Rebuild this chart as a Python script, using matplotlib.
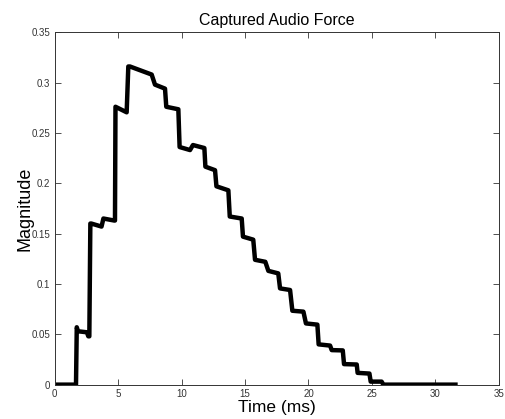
import matplotlib
matplotlib.use("Agg")
import matplotlib.pyplot as plt

# --- Captured force trace ---
time_ms = [0, 1.69, 1.75, 1.85, 2.55, 2.66, 2.74, 2.82, 2.9, 3.7, 3.85, 4.7, 4.76,
           4.8, 5.68, 5.81, 5.94, 7.65, 7.91, 8.7, 8.8, 9.75, 9.85, 10.67, 10.9,
           11.8, 11.88, 12.64, 12.75, 13.69, 13.8, 14.74, 14.84, 15.65, 15.79,
           16.6, 16.84, 17.62, 17.76, 18.55, 18.73, 19.6, 19.8, 20.7, 20.8, 21.7,
           21.83, 22.7, 22.8, 23.8, 23.87, 24.8, 24.9, 25.76, 25.9, 31.75]
magnitude = [0, 0, 0.057, 0.053, 0.052, 0.048, 0.048, 0.160, 0.160, 0.157, 0.165,
             0.163, 0.163, 0.276, 0.2705, 0.316, 0.316, 0.308, 0.298, 0.294, 0.276,
             0.2735, 0.236, 0.233, 0.238, 0.235, 0.2165, 0.213, 0.197, 0.193,
             0.167, 0.165, 0.147, 0.144, 0.124, 0.122, 0.113, 0.1105, 0.0956,
             0.094, 0.0734, 0.0725, 0.0608, 0.0596, 0.040, 0.0388, 0.0343, 0.034,
             0.0204, 0.020, 0.0117, 0.011, 0.003, 0.003, 0.0, 0.0]

x_ticks = [0, 5, 10, 15, 20, 25, 30, 35]
y_ticks = [0, 0.05, 0.1, 0.15, 0.2, 0.25, 0.3, 0.35]
y_tick_labels = ["0", "0.05", "0.1", "0.15", "0.2", "0.25", "0.3", "0.35"]

plt.rcParams["font.family"] = ["Liberation Sans", "DejaVu Sans"]

fig = plt.figure(figsize=(5.05, 4.19), dpi=100)
ax = fig.add_axes([0.108, 0.082, 0.880, 0.841])

ax.plot(time_ms, magnitude, color="black", linewidth=3.2,
        solid_joinstyle="round", solid_capstyle="butt")

ax.set_xlim(0, 35)
ax.set_ylim(0, 0.35)
ax.set_xticks(x_ticks)
ax.set_xticklabels([str(t) for t in x_ticks])
ax.set_yticks(y_ticks)
ax.set_yticklabels(y_tick_labels)
ax.tick_params(direction="in", length=4, width=0.6, labelsize=7, top=True, right=True,
               colors="#333333", pad=3)
for s in ax.spines.values():
    s.set_linewidth(0.7)
    s.set_color("#333333")

ax.set_title("Captured Audio Force", fontsize=11.5, pad=5)
ax.set_xlabel("Time (ms)", fontsize=12.5, labelpad=0.5)
ax.set_ylabel("Magnitude", fontsize=13, labelpad=-1)

fig.savefig("out.png", dpi=100)
